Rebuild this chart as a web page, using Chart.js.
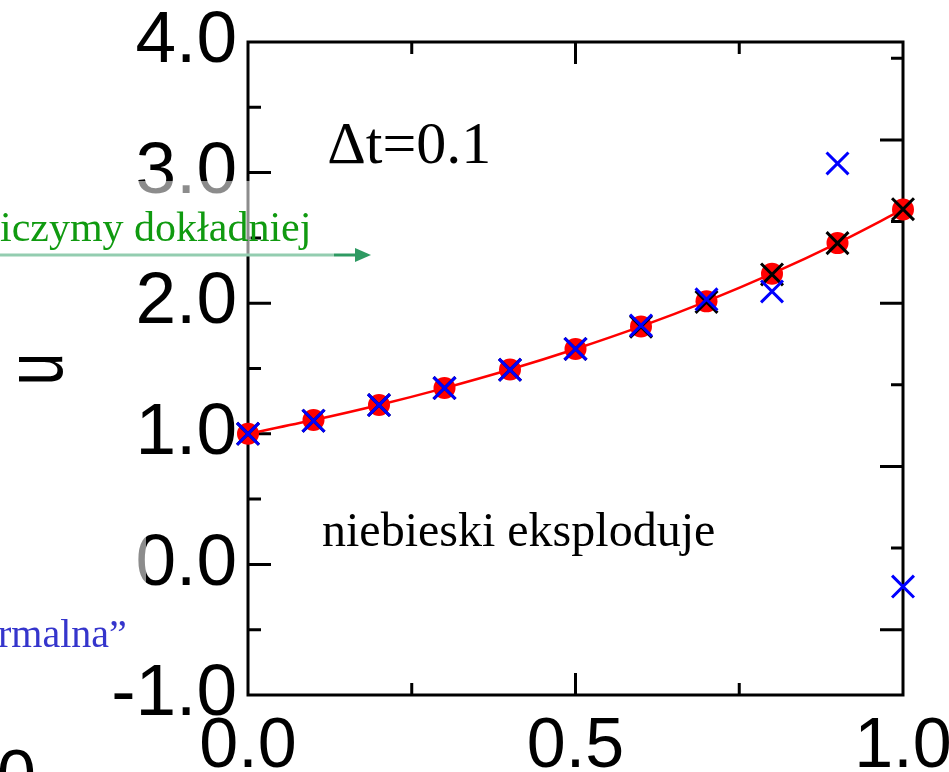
<!DOCTYPE html>
<html>
<head>
<meta charset="utf-8">
<script src="https://cdn.jsdelivr.net/npm/chart.js@4/dist/chart.umd.min.js"></script>
<style>
html,body{margin:0;padding:0;background:#fff;overflow:hidden;}
canvas{display:block;}
</style>
</head>
<body>
<canvas id="c" width="949" height="772"></canvas>
<script>
// ---- data ----
const tValues   = [0.0, 0.1, 0.2, 0.3, 0.4, 0.5, 0.6, 0.7, 0.8, 0.9, 1.0];
const exactU    = [1.00, 1.105, 1.221, 1.350, 1.492, 1.649, 1.822, 2.014, 2.226, 2.460, 2.718];
const blackU    = [1.00, 1.10, 1.22, 1.35, 1.49, 1.65, 1.82, 2.01, 2.22, 2.46, 2.72];
const blueU     = [1.00, 1.10, 1.22, 1.35, 1.49, 1.65, 1.83, 2.03, 2.09, 3.07, -0.17];
const xTickLabels = [0.0, 0.5, 1.0];
const yTickLabels = [-1.0, 0.0, 1.0, 2.0, 3.0, 4.0];
const xMinorTicks = [0.25, 0.5, 0.75];
const yLeftTicks  = [-0.5, 0.0, 0.5, 1.0, 1.5, 2.0, 2.5, 3.0, 3.5];
const yRightTicks = [0.0, 0.5, 1.0, 1.5, 2.0, 2.5, 3.0, 3.5];
const annDt = "\u0394t=0.1";
const annBlue = "niebieski eksploduje";
const annGreen = "iczymy dok\u0142adniej";
const annBlueLeft = "rmalna\u201d";
const yTitle = "u";

const pts = arr => tValues.map((t, i) => ({x: t, y: arr[i]}));

const framePlugin = {
  id: 'frame',
  beforeDatasetsDraw(chart) {
    const {ctx, chartArea: a, scales} = chart;
    const x = scales.x, y = scales.y, y2 = scales.y2;
    ctx.save();
    ctx.strokeStyle = '#000';
    ctx.lineWidth = 3;
    ctx.lineCap = 'butt';
    ctx.strokeRect(a.left, a.top, a.right - a.left, a.bottom - a.top);
    ctx.beginPath();
    yLeftTicks.forEach(v => {
      const py = y.getPixelForValue(v);
      const len = Number.isInteger(v) ? 23 : 13;
      ctx.moveTo(a.left, py); ctx.lineTo(a.left + len, py);
    });
    yRightTicks.forEach(v => {
      const py = y2.getPixelForValue(v);
      const len = Number.isInteger(v) ? 23 : 12;
      ctx.moveTo(a.right, py); ctx.lineTo(a.right - len, py);
    });
    xMinorTicks.forEach(v => {
      const px = x.getPixelForValue(v);
      const len = v === 0.5 ? 22 : 12;
      ctx.moveTo(px, a.bottom); ctx.lineTo(px, a.bottom - len);
      ctx.moveTo(px, a.top); ctx.lineTo(px, a.top + len);
    });
    ctx.stroke();
    ctx.restore();
  },
  afterDraw(chart) {
    const {ctx, scales} = chart;
    const x = scales.x, y = scales.y;
    ctx.save();
    // faded overlay regions (slide artefacts)
    ctx.fillStyle = 'rgba(255,255,255,0.55)';
    ctx.fillRect(120, 181, 131, 74);
    ctx.fillRect(100, 520, 46, 80);

    // green arrow
    ctx.strokeStyle = '#93cdb0';
    ctx.lineWidth = 3;
    ctx.beginPath(); ctx.moveTo(0, 255); ctx.lineTo(334, 255); ctx.stroke();
    ctx.strokeStyle = '#2e9a62';
    ctx.beginPath(); ctx.moveTo(334, 255); ctx.lineTo(358, 255); ctx.stroke();
    ctx.fillStyle = '#2e9a62';
    ctx.beginPath(); ctx.moveTo(355, 248); ctx.lineTo(371, 255); ctx.lineTo(355, 262); ctx.closePath(); ctx.fill();

    ctx.textBaseline = 'alphabetic';
    ctx.textAlign = 'left';
    ctx.fillStyle = '#109a10';
    ctx.font = '42px "Liberation Serif", "Times New Roman", serif';
    ctx.fillText(annGreen, 0, 241);

    ctx.fillStyle = '#3535cc';
    ctx.font = '40px "Liberation Serif", "Times New Roman", serif';
    ctx.fillText(annBlueLeft, -2, 647);

    ctx.fillStyle = '#000';
    ctx.font = '60px "Liberation Serif", "Times New Roman", serif';
    ctx.fillText(annDt, x.getPixelForValue(0.121), y.getPixelForValue(3.07));
    ctx.font = '48px "Liberation Serif", "Times New Roman", serif';
    ctx.fillText(annBlue, x.getPixelForValue(0.113), y.getPixelForValue(0.14));

    // fragment of another label at bottom-left
    ctx.font = '70px "Liberation Sans", Arial, sans-serif';
    ctx.textBaseline = 'top';
    ctx.fillText('0', -3, 745);

    // rotated y-axis title
    ctx.save();
    ctx.translate(40, 369);
    ctx.rotate(-Math.PI / 2);
    ctx.scale(1, 1.4);
    ctx.font = '58px "Liberation Sans", Arial, sans-serif';
    ctx.textAlign = 'center';
    ctx.textBaseline = 'middle';
    ctx.fillText(yTitle, 0, 0);
    ctx.restore();
    ctx.restore();
  }
};

const xTickFont = {family: '"Liberation Sans", Arial, sans-serif', size: 70};
const yTickFont = {family: '"Liberation Sans", Arial, sans-serif', size: 73};

new Chart(document.getElementById('c'), {
  type: 'scatter',
  data: {
    datasets: [
      {
        label: 'blue', data: pts(blueU), order: 0, showLine: false, clip: false,
        pointStyle: 'crossRot', pointRadius: 15.5, pointBorderColor: '#0000ff',
        pointBorderWidth: 3, pointBackgroundColor: '#0000ff'
      },
      {
        label: 'black', data: pts(blackU), order: 1, showLine: false, clip: false,
        pointStyle: 'crossRot', pointRadius: 15.5, pointBorderColor: '#000',
        pointBorderWidth: 3, pointBackgroundColor: '#000'
      },
      {
        label: 'exact', data: pts(exactU), order: 2, showLine: true, clip: false,
        borderColor: '#ff0000', borderWidth: 2.5, cubicInterpolationMode: 'monotone',
        pointStyle: 'circle', pointRadius: 11, pointBackgroundColor: '#ff0000',
        pointBorderColor: '#ff0000', pointBorderWidth: 0
      }
    ]
  },
  options: {
    responsive: false,
    animation: false,
    events: [],
    layout: {padding: {top: 42, left: 0, right: 0, bottom: 0}},
    plugins: {legend: {display: false}, tooltip: {enabled: false}},
    scales: {
      x: {
        type: 'linear', min: 0, max: 1,
        afterBuildTicks: s => { s.ticks = xTickLabels.map(v => ({value: v})); },
        afterFit: s => { s.height = 77; s.paddingLeft = 0; s.paddingRight = 0; },
        grid: {display: false, drawTicks: false},
        border: {display: false},
        ticks: {color: '#000', font: xTickFont, padding: 11, maxRotation: 0, autoSkip: false,
                callback: v => Number(v).toFixed(1)}
      },
      y: {
        type: 'linear', position: 'left', min: -1, max: 4,
        afterBuildTicks: s => { s.ticks = yTickLabels.map(v => ({value: v})); },
        afterFit: s => { s.width = 248; s.paddingTop = 0; s.paddingBottom = 0; },
        grid: {display: false, drawTicks: false},
        border: {display: false},
        ticks: {color: '#000', font: yTickFont, padding: 11, autoSkip: false,
                callback: v => Number(v).toFixed(1)}
      },
      y2: {
        type: 'linear', position: 'right', min: -0.4, max: 3.6,
        afterFit: s => { s.width = 46; s.paddingTop = 0; s.paddingBottom = 0; },
        grid: {display: false, drawTicks: false},
        border: {display: false},
        ticks: {display: false}
      }
    }
  },
  plugins: [framePlugin]
});
</script>
</body>
</html>
